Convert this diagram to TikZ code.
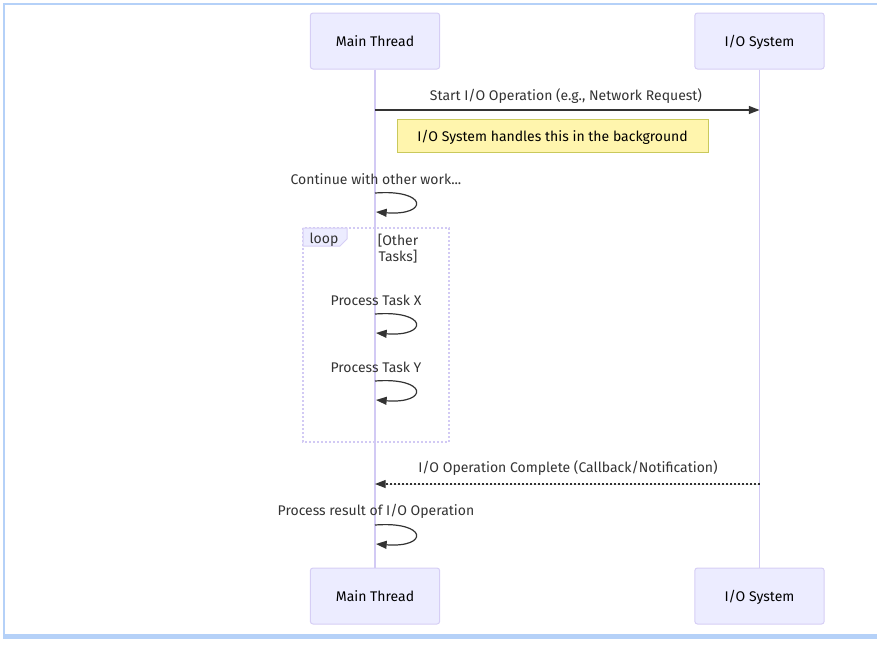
\documentclass[tikz,border=0pt]{standalone}
\usepackage{fontspec}
\setmainfont{Fira Sans}
\usepackage{tikz}
\usetikzlibrary{arrows.meta,positioning,calc}
\definecolor{actorfill}{HTML}{ECECFF}
\definecolor{actorline}{HTML}{D6CEF5}
\definecolor{lifecol}{HTML}{D2CAF4}
\definecolor{notefill}{HTML}{FFF5AD}
\definecolor{noteline}{HTML}{C9C95C}
\definecolor{framecol}{HTML}{B5D1F8}
\definecolor{inkcol}{HTML}{333333}
\tikzset{
  actorbox/.style = {rectangle, rounded corners=2pt, draw=actorline, fill=actorfill, line width=0.75pt, minimum height=42pt, minimum width=97pt, align=center, text height=9.5pt, text depth=1pt},
  lifeline/.style = {draw=lifecol, line width=1.1pt},
  msgarrow/.style = {-{Triangle[length=8pt,width=6pt]}, draw=inkcol, fill=inkcol, line width=0.9pt},
  replyarrow/.style = {msgarrow, dash pattern=on 1.5pt off 1.5pt},
  msglabel/.style = {text=inkcol, inner sep=1pt, yshift=-1.1pt},
  notebox/.style = {rectangle, draw=noteline, fill=notefill, line width=0.75pt, minimum height=24.75pt, minimum width=233.25pt, text=black, text height=9.8pt, text depth=1pt},
  loopframe/.style = {draw=lifecol, line width=1.1pt, dash pattern=on 1.5pt off 1.5pt},
  looptag/.style = {draw=actorline, fill=actorfill, line width=0.75pt},
}

\begin{document}
\begin{tikzpicture}[x=0.75pt, y=-0.75pt, every node/.style={font=\fontsize{10.5}{12.5}\selectfont}]
\useasboundingbox (0,0) rectangle (877,647);
% frame
\draw[framecol, line width=1.5pt] (877,4) -- (4,4) -- (4,636);
\fill[framecol] (3,634) rectangle (877,639);
% actors
\node[actorbox] (mtTop) at (375,41) {Main Thread};
\node[actorbox] (ioTop) at (759.5,41) {I/O System};
\node[actorbox] (mtBot) at (375,596) {Main Thread};
\node[actorbox] (ioBot) at (759.5,596) {I/O System};
\draw[lifeline] (mtTop.south) -- (mtBot.north);
\draw[lifeline] (ioTop.south) -- (ioBot.north);
% loop block
\draw[loopframe] (303,228) rectangle (449,442);
\draw[looptag] (303,228) -- (347,228) -- (347,239) -- (340,246) -- (303,246) -- cycle;
\node[msglabel] (loopTag) at (324,238.5) {loop};
\node[msglabel, align=center] (loopCond) at (398,247) {[Other\\Tasks]};
% request
\coordinate (reqA) at (375,110);
\coordinate (reqB) at (759.5,110);
\node[msglabel] (reqText) at (566,95) {Start I/O Operation (e.g., Network Request)};
\draw[msgarrow] (reqA) -- (reqB);
\node[notebox] (bgNote) at (552.5,135.5) {I/O System handles this in the background};
% self messages
\foreach \nm/\ty/\ly/\txt in {work/178/193/{Continue with other work.{}.{}.},
                               taskX/299/314/{Process Task X},
                               taskY/366/381/{Process Task Y},
                               result/510/525/{Process result of I/O Operation}}{
  \node[msglabel] (\nm Text) at (376,\ty) {\txt};
  \coordinate (\nm A) at (375,\ly);
  \coordinate (\nm B) at (376,\ly+19);
  \draw[msgarrow, fill=none] (\nm A) .. controls +(53,-4) and +(53,4) .. (\nm B);
}
% reply
\coordinate (repA) at (759.5,484);
\coordinate (repB) at (375,484);
\node[msglabel] (repText) at (568,467) {I/O Operation Complete (Callback/Notification)};
\draw[replyarrow] (repA) -- (repB);
\end{tikzpicture}
\end{document}
